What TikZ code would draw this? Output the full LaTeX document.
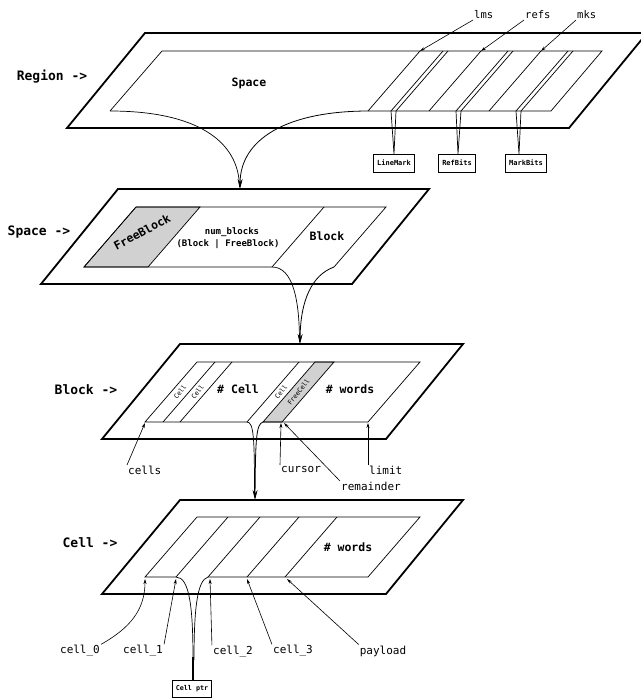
\documentclass[tikz,border=0pt]{standalone}
\usepackage{fontspec}
\setmainfont{DejaVu Sans Mono}
\usetikzlibrary{arrows.meta}
\begin{document}
\begin{tikzpicture}[x=1pt,y=-1pt,
  lay/.style={line width=1.8pt, line join=miter},
  thin/.style={line width=0.7pt, line join=miter},
  ttl/.style={font=\bfseries\fontsize{13}{15}\selectfont, inner sep=1pt},
  bl/.style={font=\bfseries\fontsize{11.5}{13}\selectfont, inner sep=1pt},
  sm/.style={font=\bfseries\fontsize{9}{11}\selectfont, inner sep=1pt},
  lab/.style={font=\fontsize{11}{13}\selectfont, inner sep=1pt},
  tiny/.style={font=\fontsize{6.5}{8}\selectfont, inner sep=0.5pt},
  boxn/.style={draw, line width=1pt, font=\bfseries\fontsize{7}{8}\selectfont, minimum height=18pt, inner xsep=4pt},
  ptr/.style={-{Stealth[length=5pt,width=3pt]}, line width=0.6pt},
  big/.style={-{Stealth[length=10pt,width=5pt]}, line width=0.8pt},
  graycell/.style={fill=black!18, draw=black, line width=0.7pt}
]
\useasboundingbox (0,0) rectangle (640,698);

% ================= Region =================
\draw[lay] (67,128) -- (145,33) -- (647,33) -- (569,128) -- cycle;
\draw[thin] (369,111) -- (551,111) -- (602,51) -- (162,51) -- (110,111);
% stripes
\draw[thin] (368,111) -- (420,51);
\draw[thin] (489,111) -- (541,51);
\draw[thin] (429,111) -- (481,51);
\node[boxn] (lmk) at (394,163) {LineMark};
\node[boxn] (rbt) at (457,163) {RefBits};
\node[boxn] (mbt) at (526,163) {MarkBits};
\coordinate (va) at (394,154);
\coordinate (vb) at (458,154);
\coordinate (vc) at (519,154);
\draw[thin] (443,51) -- (391,111) -- (va) -- (396,111) -- (448,51);
\draw[thin] (508,51) -- (456,111) -- (vb) -- (461,111) -- (513,51);
\draw[thin] (568,51) -- (516,111) -- (vc) -- (521,111) -- (573,51);
% labels lms refs mks
\node[lab, font=\fontsize{10.5}{12}\selectfont, anchor=south west] (lms) at (473,20) {lms};
\node[lab, font=\fontsize{10.5}{12}\selectfont, anchor=south west] (refs) at (524,20) {refs};
\node[lab, font=\fontsize{10.5}{12}\selectfont, anchor=south west] (mks) at (576,20) {mks};
\coordinate (t1) at (420,51);
\coordinate (t2) at (481,51);
\coordinate (t3) at (541,51);
\draw[ptr] (lms.south west) -- (t1);
\draw[ptr] (refs.south west) -- (t2);
\draw[ptr] (mks.south west) -- (t3);
\node[ttl] (lregion) at (52,77) {Region ->};
\node[bl] (sspace) at (249,83) {Space};

% ================= Space =================
\draw[lay] (41,284) -- (118,189) -- (429,189) -- (352,284) -- cycle;
\draw[graycell] (84,267) -- (136,207) -- (200,207) -- (148,267) -- cycle;
\draw[thin] (272,267) -- (84,267) -- (136,207) -- (386,207) -- (334,267);
\draw[thin] (272,267) -- (324,207);
\coordinate (sptop) at (240,189);
\draw[thin] (110,111) .. controls (195,111) and (239,140) .. (239.5,187);
\draw[big] (369,111) .. controls (285,111) and (240.5,140) .. (sptop);
\node[ttl] (lspace) at (39,232) {Space ->};
\node[bl, rotate=28] (fb) at (142,232) {FreeBlock};
\node[sm] (nb) at (232,232) {num\_blocks};
\node[sm] (nb2) at (228,244) {(Block | FreeBlock)};
\node[bl] (blk) at (327,236) {Block};

% ================= Block =================
\draw[lay] (102,439) -- (180,344) -- (463,344) -- (386,439) -- cycle;
\draw[graycell] (263,422) -- (315,362) -- (334,362) -- (282,422) -- cycle;
\draw[thin] (247,422) -- (145,422) -- (197,362) -- (420,362) -- (368,422) -- (263,422);
\draw[thin] (163,422) -- (215,362);
\draw[thin] (180,422) -- (232,362);
\draw[thin] (247,422) -- (299,362);
\coordinate (bltop) at (300,344);
\draw[thin] (272,267) .. controls (293,267) and (299.5,300) .. (299.5,342);
\draw[big] (334,267) .. controls (312,275) and (300.5,300) .. (bltop);
\node[tiny, rotate=52] (c1) at (180,392) {Cell};
\node[tiny, rotate=52] (c2) at (197.5,392) {Cell};
\node[tiny, rotate=52] (c3) at (281,392) {Cell};
\node[tiny, rotate=52] (fc) at (298.5,392) {FreeCell};
\node[bl] (ncell) at (238,389) {\# Cell};
\node[bl] (nw1) at (350,389) {\# words};
\node[ttl] (lblock) at (86,390) {Block ->};
\node[lab, anchor=north west] (cells) at (127,465) {cells};
\node[lab, anchor=north west] (cursor) at (280,465) {cursor};
\node[lab, anchor=north west] (limit) at (368,465) {limit};
\node[lab, anchor=north west] (rem) at (340,481) {remainder};
\coordinate (bbl) at (145,423);
\coordinate (gbl) at (281,423);
\coordinate (gbr) at (284,423);
\coordinate (blbr) at (368,423);
\draw[ptr] (cells.north west) -- (bbl);
\draw[ptr] (cursor.north west) -- (gbl);
\draw[ptr] (limit.north west) -- (blbr);
\draw[ptr] (rem.north west) -- (gbr);

% ================= Cell =================
\draw[lay] (102,594) -- (180,500) -- (463,500) -- (386,594) -- cycle;
\draw[thin] (176,577) -- (145,577) -- (197,517) -- (420,517) -- (368,577) -- (208,577);
\draw[thin] (176,577) -- (228,517);
\draw[thin] (208,577) -- (260,517);
\draw[thin] (247,577) -- (299,517);
\draw[thin] (285,577) -- (337,517);
\coordinate (cltop) at (255,500);
\draw[thin] (247,422) .. controls (254,422) and (254.5,440) .. (254.5,497);
\draw[big] (263,422) .. controls (256,424) and (255.5,440) .. (cltop);
\node[bl] (nw2) at (348,547) {\# words};
\node[ttl] (lcell) at (90,543) {Cell ->};
\node[boxn, minimum height=17pt, inner xsep=3.5pt, font=\bfseries\fontsize{6.7}{8}\selectfont] (cptr) at (192,688.5) {Cell ptr};
\coordinate (merge) at (193,657);
\draw[thin] (176,577) .. controls (190,577) and (193,610) .. (193,660);
\draw[thin] (208,577) .. controls (197,580) and (194,610) .. (194,660);
\draw[line width=1.8pt] (merge) -- (cptr.north -| merge);
\node[lab] (k0) at (80,651) {cell\_0};
\node[lab] (k1) at (143,651) {cell\_1};
\node[lab] (k2) at (233,652) {cell\_2};
\node[lab] (k3) at (293,651) {cell\_3};
\node[lab] (pl) at (383,651) {payload};
\coordinate (p0) at (145,579);
\coordinate (p1) at (176,579);
\coordinate (p2) at (210,579);
\coordinate (p3) at (247,579);
\coordinate (p4) at (287,579);
\draw[ptr] (k0.north east) .. controls (130,628) and (145,610) .. (p0);
\draw[ptr] (k1.north east) -- (p1);
\draw[ptr] (k2.north west) -- (p2);
\draw[ptr] (k3.north west) -- (p3);
\draw[ptr] (pl.north west) -- (p4);
\end{tikzpicture}
\end{document}
